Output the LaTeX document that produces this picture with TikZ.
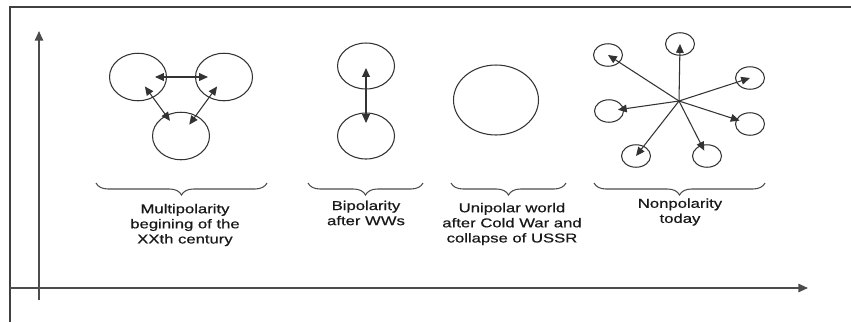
\documentclass[tikz,border=0pt]{standalone}
\usepackage{fontspec}
\newfontfamily\lblfont[FakeStretch=1.3, FakeBold=0.6]{Liberation Sans}
\usetikzlibrary{arrows.meta,shapes.geometric,decorations.pathreplacing}
\tikzset{
	pole/.style={draw=black!80, line width=0.6pt, ellipse, inner sep=0pt, minimum width=1.14cm, minimum height=0.95cm},
	bigpole/.style={pole, minimum width=1.7cm, minimum height=1.4cm},
	smallpole/.style={pole, minimum width=0.58cm, minimum height=0.45cm},
	link/.style={draw=black!80, line width=0.6pt, {Triangle[length=5pt,width=4.4pt]}-{Triangle[length=5pt,width=4.4pt]}},
	ray/.style={draw=black!80, line width=0.6pt, -{Triangle[length=5pt,width=4.4pt]}},
	axis/.style={draw=black!70, line width=0.8pt, -{Triangle[length=5.5pt,width=4.8pt]}},
	era/.style={draw=black!70, line width=0.6pt, decorate, decoration={brace, mirror, amplitude=0.24cm}},
	caption/.style={font=\lblfont\fontsize{7.3}{8.6}\selectfont, align=center, text=black!90, inner sep=0pt}
}

\begin{document}
\begin{tikzpicture}[x=0.02cm, y=-0.02cm]
		%%%%% START %%%%%
		\useasboundingbox (0, 0) rectangle (851, 322);
		
		\draw[black!75, line width=0.9pt] (10, 322) -- (10, 7) -- (851, 7);
		
		\draw[axis] (39, 300) -- (39, 31);
		\draw[axis] (10, 288) -- (808, 288);
		
		% multipolarity
		\node[pole] (west) at (138, 77) {};
		\node[pole] (east) at (224, 77) {};
		\node[pole] (south) at (181, 136) {};
		\draw[link, shorten <=0.34cm, shorten >=0.32cm] (west.center) -- (east.center);
		\draw[link, shorten <=0.234cm, shorten >=0.374cm] (west.center) -- (south.center);
		\draw[link, shorten <=0.234cm, shorten >=0.28cm] (east.center) -- (south.center);
		
		% bipolarity
		\node[pole, minimum height=0.92cm] (upper) at (366, 66) {};
		\node[pole, minimum height=0.92cm] (lower) at (366, 136) {};
		\draw[link, shorten <=0.04cm, shorten >=0.26cm] (upper.center) -- (lower.center);
		
		% unipolar
		\node[bigpole] (hegemon) at (496, 100) {};
		
		% nonpolarity
		\coordinate (hub) at (679, 101);
		\node[smallpole] (p1) at (680, 44) {};
		\node[smallpole] (p2) at (608, 55) {};
		\node[smallpole] (p3) at (750, 78) {};
		\node[smallpole] (p4) at (609, 111) {};
		\node[smallpole] (p5) at (750, 124) {};
		\node[smallpole] (p6) at (636, 156) {};
		\node[smallpole] (p7) at (707, 156) {};
		\draw[ray] (hub) -- (p1.center);
		\draw[ray] (hub) -- (p2.center);
		\draw[ray] (hub) -- (p3.center);
		\draw[ray, shorten >=0.18cm] (hub) -- (p4.center);
		\draw[ray, shorten >=0.22cm] (hub) -- (p5.center);
		\draw[ray] (hub) -- (p6.center);
		\draw[ray, shorten >=0.12cm] (hub) -- (p7.center);
		
		% braces and captions
		\draw[era] (96, 183) -- (267, 183);
		\draw[era] (308, 183) -- (423, 183);
		\draw[era] (451, 183) -- (566, 183);
		\draw[era] (594, 183) -- (765, 183);
		
		\node[caption] (multi) at (185, 225) {Multipolarity\\begining of the\\XXth century};
		\node[caption] (bi) at (366, 213) {Bipolarity\\after WWs};
		\node[caption] (uni) at (512, 224) {Unipolar world\\after Cold War and\\collapse of USSR};
		\node[caption] (non) at (680, 212) {Nonpolarity\\today};
		
		%%%%% END %%%%%
	\end{tikzpicture}
\end{document}
